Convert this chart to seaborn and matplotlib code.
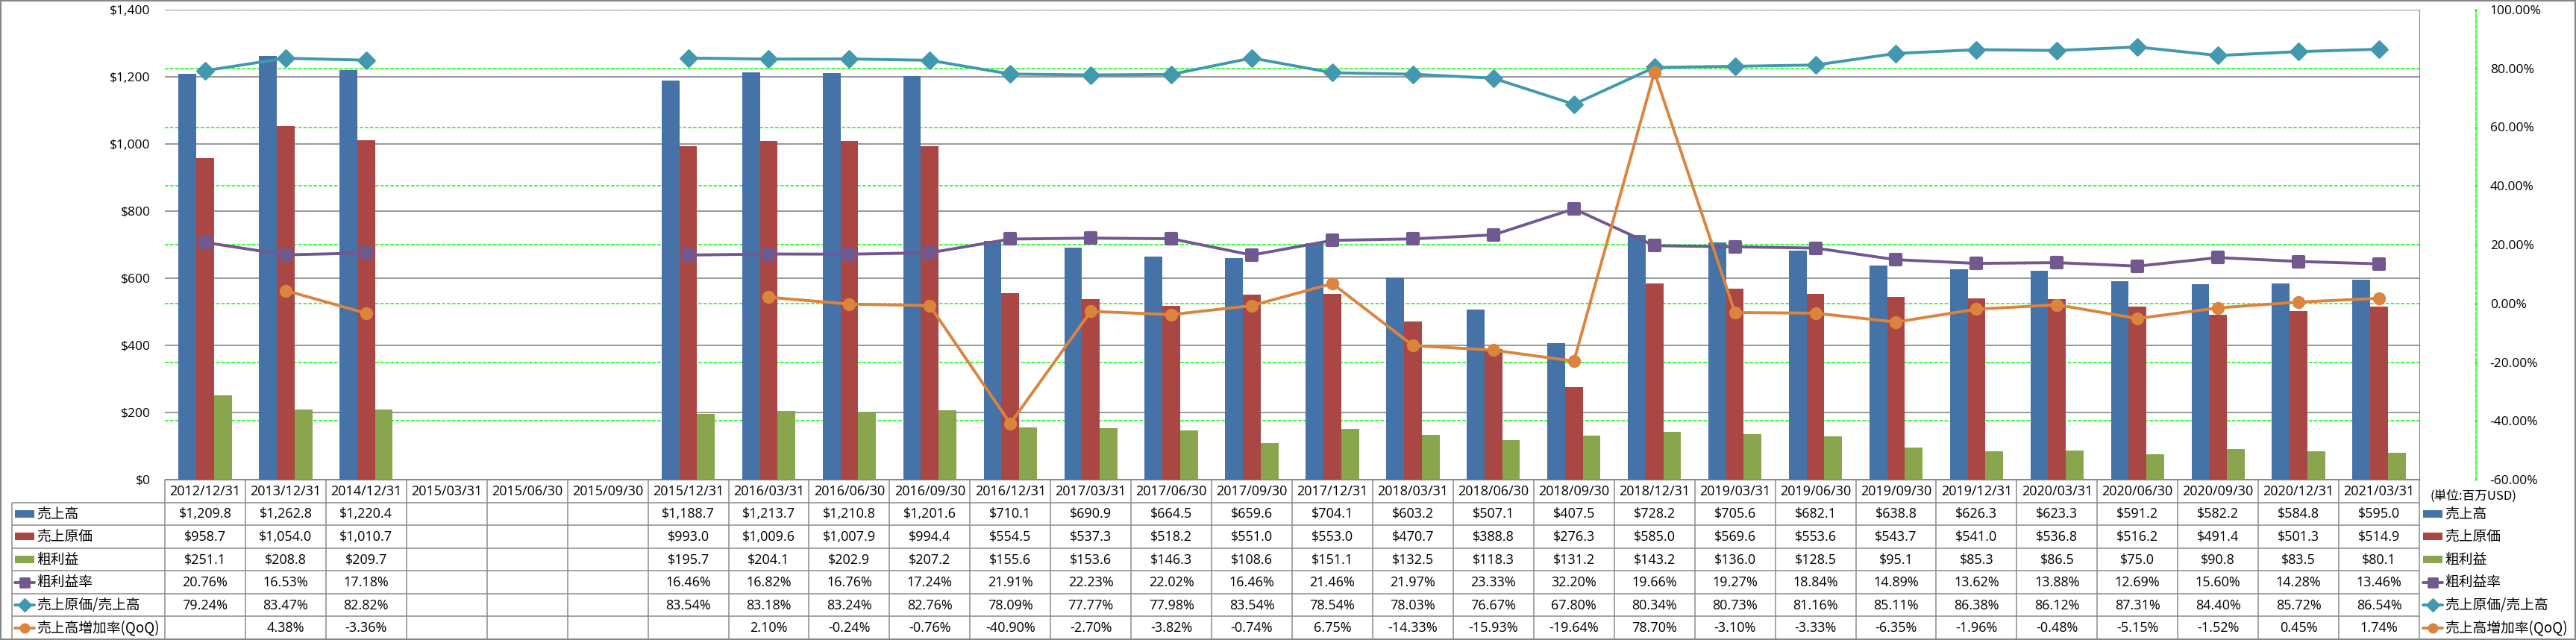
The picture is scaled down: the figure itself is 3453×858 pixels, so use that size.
import numpy as np
import pandas as pd
import matplotlib
matplotlib.use('Agg')
import matplotlib.pyplot as plt
import seaborn as sns
from matplotlib.patches import Rectangle
from matplotlib.markers import MarkerStyle

nan = np.nan

# ---- data (USD millions / percent) ----
dates = ['2012/12/31', '2013/12/31', '2014/12/31', '2015/03/31', '2015/06/30', '2015/09/30',
         '2015/12/31', '2016/03/31', '2016/06/30', '2016/09/30', '2016/12/31', '2017/03/31',
         '2017/06/30', '2017/09/30', '2017/12/31', '2018/03/31', '2018/06/30', '2018/09/30',
         '2018/12/31', '2019/03/31', '2019/06/30', '2019/09/30', '2019/12/31', '2020/03/31',
         '2020/06/30', '2020/09/30', '2020/12/31', '2021/03/31']

sales = [1209.8, 1262.8, 1220.4, nan, nan, nan, 1188.7, 1213.7, 1210.8, 1201.6, 710.1, 690.9,
         664.5, 659.6, 704.1, 603.2, 507.1, 407.5, 728.2, 705.6, 682.1, 638.8, 626.3, 623.3,
         591.2, 582.2, 584.8, 595.0]
cost = [958.7, 1054.0, 1010.7, nan, nan, nan, 993.0, 1009.6, 1007.9, 994.4, 554.5, 537.3,
        518.2, 551.0, 553.0, 470.7, 388.8, 276.3, 585.0, 569.6, 553.6, 543.7, 541.0, 536.8,
        516.2, 491.4, 501.3, 514.9]
gross = [251.1, 208.8, 209.7, nan, nan, nan, 195.7, 204.1, 202.9, 207.2, 155.6, 153.6,
         146.3, 108.6, 151.1, 132.5, 118.3, 131.2, 143.2, 136.0, 128.5, 95.1, 85.3, 86.5,
         75.0, 90.8, 83.5, 80.1]
gross_margin = [20.76, 16.53, 17.18, nan, nan, nan, 16.46, 16.82, 16.76, 17.24, 21.91, 22.23,
                22.02, 16.46, 21.46, 21.97, 23.33, 32.20, 19.66, 19.27, 18.84, 14.89, 13.62,
                13.88, 12.69, 15.60, 14.28, 13.46]
cost_ratio = [79.24, 83.47, 82.82, nan, nan, nan, 83.54, 83.18, 83.24, 82.76, 78.09, 77.77,
              77.98, 83.54, 78.54, 78.03, 76.67, 67.80, 80.34, 80.73, 81.16, 85.11, 86.38,
              86.12, 87.31, 84.40, 85.72, 86.54]
qoq = [nan, 4.38, -3.36, nan, nan, nan, nan, 2.10, -0.24, -0.76, -40.90, -2.70, -3.82, -0.74,
       6.75, -14.33, -15.93, -19.64, 78.70, -3.10, -3.33, -6.35, -1.96, -0.48, -5.15, -1.52,
       0.45, 1.74]

bar_names = ['売上高', '売上原価', '粗利益']
line_names = ['粗利益率', '売上原価/売上高', '売上高増加率(QoQ)']

BLUE, RED, GREEN = '#4572A7', '#AA4643', '#89A54E'
PURPLE, TEAL, ORANGE = '#71588F', '#4198AF', '#DB843D'
GRID_GRAY = '#868686'
LIME = '#00FF00'
TABLE_LINE = '#8c8c8c'

NUM_FONT = ['Open Sans', 'DejaVu Sans']
JP_FONT = ['Noto Sans CJK JP', 'DejaVu Sans']
plt.rcParams['font.family'] = NUM_FONT

# ---- layout in pixels ----
W, H = 3453, 858
PLOT_L, PLOT_R, PLOT_T, PLOT_B = 221, 3243, 13, 643
TABLE_B = 857
n = len(dates)
COLW = (PLOT_R - PLOT_L) / n

fig = plt.figure(figsize=(W / 100, H / 100), dpi=100)
fig.patch.set_facecolor('white')

ax = fig.add_axes([PLOT_L / W, 1 - PLOT_B / H, (PLOT_R - PLOT_L) / W, (PLOT_B - PLOT_T) / H])

# bars
rows = []
for name, vals in zip(bar_names, [sales, cost, gross]):
    for d, v in zip(dates, vals):
        rows.append((d, name, v))
df = pd.DataFrame(rows, columns=['date', 'series', 'value']).dropna()

sns.barplot(data=df, x='date', y='value', hue='series', order=dates, hue_order=bar_names,
            palette=[BLUE, RED, GREEN], width=0.66, errorbar=None, saturation=1,
            linewidth=0, legend=False, ax=ax)

ax.set_xlim(-0.5, n - 0.5)
ax.set_ylim(0, 1400)
ax.set_xlabel('')
ax.set_ylabel('')
ax.set_xticks([])
ax.yaxis.tick_right()
dollar_ticks = list(range(0, 1401, 200))
ax.set_yticks(dollar_ticks, labels=[f'${v:,}' for v in dollar_ticks])
ax.tick_params(axis='y', length=0, pad=14, labelsize=12.5, labelcolor='black')
ax.yaxis.grid(True, color=GRID_GRAY, lw=1.2)
ax.set_axisbelow(True)
for s in ['left', 'top']:
    ax.spines[s].set_visible(False)
ax.spines['right'].set_color(GRID_GRAY)
ax.spines['bottom'].set_color(GRID_GRAY)
ax.patch.set_visible(False)

# green percent grid (behind bars)
ax_g = ax.twinx()
ax_g.set_ylim(-60, 100)
ax_g.set_yticks(range(-60, 101, 20))
ax_g.yaxis.grid(True, color=LIME, lw=1.1, ls=(0, (3, 1.5)))
ax_g.tick_params(right=False, labelright=False)
for s in ax_g.spines.values():
    s.set_visible(False)

# percent lines
ax_l = ax.twinx()
x = np.arange(n)
ax_l.plot(x, gross_margin, color=PURPLE, lw=2.8, solid_capstyle='round',
          marker=MarkerStyle('s', joinstyle='round'), ms=10, mfc=PURPLE, mec=PURPLE, mew=3)
ax_l.plot(x, cost_ratio, color=TEAL, lw=2.8, solid_capstyle='round',
          marker=MarkerStyle('D', joinstyle='round'), ms=11, mfc=TEAL, mec=TEAL, mew=2)
ax_l.plot(x, qoq, color=ORANGE, lw=2.8, solid_capstyle='round',
          marker='o', ms=11, mfc=ORANGE, mec=ORANGE, mew=1.5)
ax_l.set_ylim(-60, 100)
pct_ticks = list(range(-60, 101, 20))
ax_l.set_yticks(pct_ticks, labels=[f'{v:.2f}%' for v in pct_ticks])
for v, t in zip(pct_ticks, ax_l.get_yticklabels()):
    t.set_color('red' if v < 0 else 'black')
ax_l.tick_params(axis='y', length=3, width=1, color=LIME, direction='inout', pad=12, labelsize=12.5)
for s in ['left', 'top', 'bottom']:
    ax_l.spines[s].set_visible(False)
ax_l.spines['right'].set_position(('outward', (3319 - PLOT_R) * 0.72))
ax_l.spines['right'].set_color(LIME)
ax_l.spines['right'].set_linestyle((0, (3, 1.5)))
ax_l.spines['right'].set_linewidth(1.1)

ax_g.set_zorder(0)
ax.set_zorder(1)
ax_l.set_zorder(2)

# ---- data table ----
tax = fig.add_axes([PLOT_L / W, 1 - TABLE_B / H, (PLOT_R - PLOT_L) / W, (TABLE_B - PLOT_B) / H])
tax.set_xlim(-0.5, n - 0.5)
tax.set_ylim(7, 0)
tax.axis('off')


def X(px):
    return -0.5 + (px - PLOT_L) / COLW


ROWH = (TABLE_B - PLOT_B) / 7
lkw = dict(color=TABLE_LINE, lw=1.1, clip_on=False, solid_capstyle='butt')
tax.plot([-0.5, n - 0.5], [0, 0], **lkw)
for r in range(1, 8):
    tax.plot([X(16), n - 0.5], [r, r], **lkw)
for k in range(n + 1):
    tax.plot([k - 0.5, k - 0.5], [0, 7], **lkw)
tax.plot([X(16), X(16)], [1, 7], **lkw)

for i, d in enumerate(dates):
    tax.text(i, 0.52, d, ha='center', va='center', fontsize=13, family=NUM_FONT)

row_vals = [
    [f'${v:,.1f}' if not np.isnan(v) else '' for v in sales],
    [f'${v:,.1f}' if not np.isnan(v) else '' for v in cost],
    [f'${v:,.1f}' if not np.isnan(v) else '' for v in gross],
    [f'{v:.2f}%' if not np.isnan(v) else '' for v in gross_margin],
    [f'{v:.2f}%' if not np.isnan(v) else '' for v in cost_ratio],
    [f'{v:.2f}%' if not np.isnan(v) else '' for v in qoq],
]
for r, vals in enumerate(row_vals, start=1):
    for i, s in enumerate(vals):
        if s:
            tax.text(i, r + 0.52, s, ha='center', va='center', fontsize=13, family=NUM_FONT)

keys = [
    ('bar', BLUE, None), ('bar', RED, None), ('bar', GREEN, None),
    ('line', PURPLE, 's'), ('line', TEAL, 'D'), ('line', ORANGE, 'o'),
]
names = bar_names + line_names


def draw_key(px0, px1, yc, kind, color, marker):
    if kind == 'bar':
        h = 10 / ROWH
        tax.add_patch(Rectangle((X(px0), yc - h / 2), X(px1) - X(px0), h,
                                facecolor=color, edgecolor='none', clip_on=False))
    else:
        tax.plot([X(px0), X(px1)], [yc, yc], color=color, lw=2.8, clip_on=False,
                 solid_capstyle='round')
        tax.plot([(X(px0) + X(px1)) / 2], [yc], marker=MarkerStyle(marker, joinstyle='round'),
                 ms=8 if marker != 'D' else 8.5, mfc=color, mec=color, mew=2, clip_on=False)


for r, ((kind, color, marker), name) in enumerate(zip(keys, names), start=1):
    yc = r + 0.5
    draw_key(20, 46, yc, kind, color, marker)
    tax.text(X(49), yc, name, ha='left', va='center', fontsize=13.5, family=JP_FONT, clip_on=False)
    draw_key(3248, 3274, yc, kind, color, marker)
    tax.text(X(3277), yc, name, ha='left', va='center', fontsize=13.5, family=JP_FONT, clip_on=False)

tax.text(X(3258), 0.72, '(単位:百万USD)', ha='left', va='center', fontsize=12, family=JP_FONT,
         clip_on=False)

# outer frame
fig.add_artist(Rectangle((1 / W, 1 / H), (W - 2) / W, (H - 2) / H, transform=fig.transFigure,
                         fill=False, edgecolor=GRID_GRAY, lw=1.5))

fig.savefig('out.png', dpi=100, facecolor='white')
